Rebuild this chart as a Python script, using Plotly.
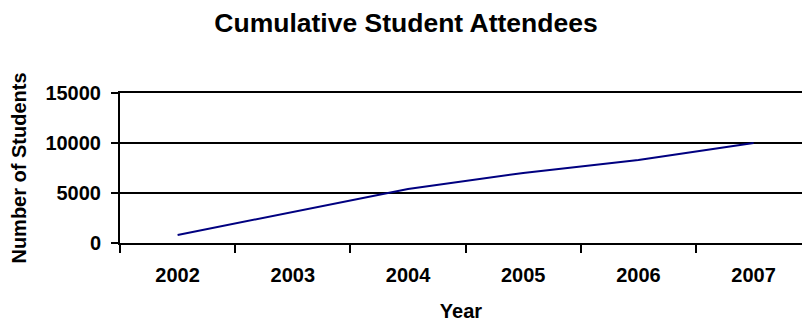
import plotly.graph_objects as go

years = ["2002", "2003", "2004", "2005", "2006", "2007"]
students = [800, 3100, 5400, 7000, 8300, 10000]

FONT = "Liberation Sans, Arial, sans-serif"

fig = go.Figure()
fig.add_trace(go.Scatter(
    x=years, y=students, mode="lines",
    line=dict(color="#000080", width=2),
    hoverinfo="skip", showlegend=False,
))

fig.update_layout(
    width=802, height=322,
    margin=dict(l=120, r=0, t=93, b=79, pad=0),
    paper_bgcolor="white", plot_bgcolor="white",
    font=dict(family=FONT, color="black", size=20),
    title=dict(
        text="<b>Cumulative Student Attendees</b>",
        font=dict(family=FONT, size=26.5, color="black"),
        x=406 / 802, xanchor="center", xref="container",
        y=1 - 23 / 322, yanchor="middle", yref="container",
    ),
)

fig.update_xaxes(
    type="category",
    range=[-0.5, 5.42],
    tickson="boundaries", automargin=False,
    ticks="outside", ticklen=8, tickwidth=2, tickcolor="black",
    showline=True, linecolor="black", linewidth=2, mirror=True,
    showgrid=False, zeroline=False,
    tickfont=dict(family=FONT, size=20, color="black"),
    tickprefix="<b>", ticksuffix="</b>",
    ticklabelstandoff=13,
    title=dict(text="<b>Year</b>", font=dict(family=FONT, size=20, color="black"), standoff=25),
)

fig.update_yaxes(
    range=[0, 15000], tick0=0, dtick=5000, tickformat="d",
    automargin=False,
    ticks="outside", ticklen=7, tickwidth=2, tickcolor="black",
    showline=True, linecolor="black", linewidth=2,
    showgrid=True, gridcolor="black", gridwidth=2,
    zeroline=False,
    tickfont=dict(family=FONT, size=20, color="black"),
    tickprefix="<b>", ticksuffix="</b>",
    ticklabelstandoff=6,
    title=dict(text="<b>Number of Students</b>", font=dict(family=FONT, size=20, color="black"), standoff=13),
)

fig.write_html("out.html")
